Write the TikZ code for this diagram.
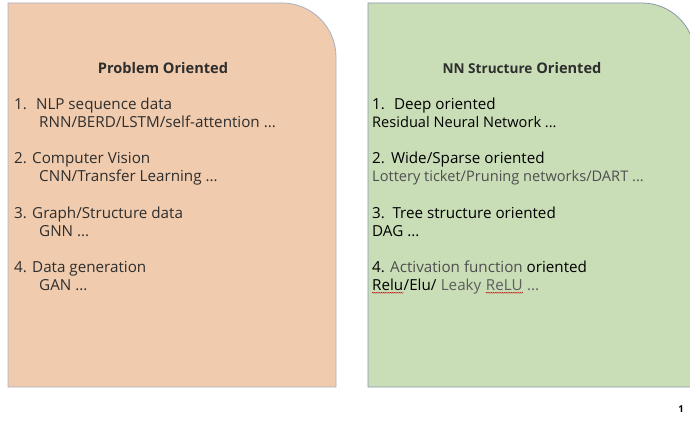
\documentclass[tikz,border=0pt]{standalone}
\usepackage{fontspec}
\setmainfont{Open Sans}
\usetikzlibrary{decorations.pathmorphing}
\definecolor{peach}{HTML}{F0CBAD}
\definecolor{sage}{HTML}{C9DDB7}
\definecolor{edgeA}{HTML}{A8B0C6}
\definecolor{edgeB}{HTML}{8A98AE}
\definecolor{txt}{HTML}{2E2E2E}
\definecolor{gtxt}{HTML}{4F4F4F}
\definecolor{ltxt}{HTML}{5E5E5E}
\tikzset{
  panel/.style={line width=0.8pt},
  item/.style={anchor=base west, inner sep=0pt, font=\fontsize{15.2}{17}\selectfont, text=txt},
  sub/.style={anchor=base west, inner sep=0pt, font=\fontsize{14.6}{17}\selectfont, text=txt},
  title/.style={anchor=base, inner sep=0pt, font=\fontsize{14.6}{17}\selectfont\bfseries, text=txt},
  spell/.style={draw=red!75!black, line width=0.4pt, decorate, decoration={snake, amplitude=0.4pt, segment length=1.8pt}}
}
\begin{document}
\begin{tikzpicture}[x=1pt,y=-1pt]
\useasboundingbox (0,0) rectangle (690,422);
\fill[white] (0,0) rectangle (690,422);
% left panel
\filldraw[panel, fill=peach, draw=edgeA] (8,387) -- (8,3) -- (282,3) arc[start angle=270, end angle=360, radius=54] -- (336,387) -- cycle;
% right panel
\filldraw[panel, fill=sage, draw=edgeB] (368,387) -- (368,3) -- (642,3) arc[start angle=270, end angle=360, radius=53] -- (695,387) -- cycle;

% left texts
\node[title] (lt) at (163,74) {Problem Oriented};
\node[item] (l1) at (14,110) {1.\hspace{0.6em}NLP sequence data};
\node[item] (l1b) at (39,128) {RNN/BERD/LSTM/self-attention ...};
\node[item] (l2) at (14,164) {2. Computer Vision};
\node[item] (l2b) at (39,182) {CNN/Transfer Learning ...};
\node[item] (l3) at (14,218) {3. Graph/Structure data};
\node[item] (l3b) at (39,236) {GNN ...};
\node[item] (l4) at (14,272) {4. Data generation};
\node[item] (l4b) at (39,290) {GAN ...};

% right texts
\node[title] (rt) at (522,74) {{\fontsize{13.6}{16}\selectfont NN Structure} Oriented};
\node[item, text=black] (r1) at (372,110) {1.\hspace{0.6em}Deep oriented};
\node[sub, text=black] (r1b) at (372,128) {Residual Neural Network ...};
\node[item, text=black] (r2) at (372,164) {2.\hspace{0.4em}Wide/Sparse oriented};
\node[sub, text=gtxt] (r2b) at (372,182) {Lottery ticket/Pruning networks/DART ...};
\node[item, text=black] (r3) at (372,218) {3.\hspace{0.5em}Tree structure oriented};
\node[item, text=black] (r3b) at (372,236) {DAG ...};
\node[item, text=black] (r4) at (372,272) {4. \textcolor{gtxt}{Activation function} oriented};
\node[item, text=black] (relu) at (372,290) {Relu};
\node[item, text=black] (elu) at (relu.base east) {/Elu/};
\node[item, text=ltxt] (leaky) at (elu.base east) {\ Leaky\ };
\node[item, text=ltxt] (relu2) at ([xshift=4.2pt]leaky.base east) {ReLU};
\node[item, text=ltxt] (dots) at (relu2.base east) {\ ...};
\draw[spell] ([yshift=-2.8pt]relu.base west) -- ([yshift=-2.8pt]relu.base east);
\draw[spell] ([yshift=-2.8pt]relu2.base west) -- ([yshift=-2.8pt]relu2.base east);

% page number
\node[anchor=base, inner sep=0pt, font=\fontsize{9.5}{10}\selectfont\rmfamily\bfseries] (pg) at (681,412) {1};
\end{tikzpicture}
\end{document}
